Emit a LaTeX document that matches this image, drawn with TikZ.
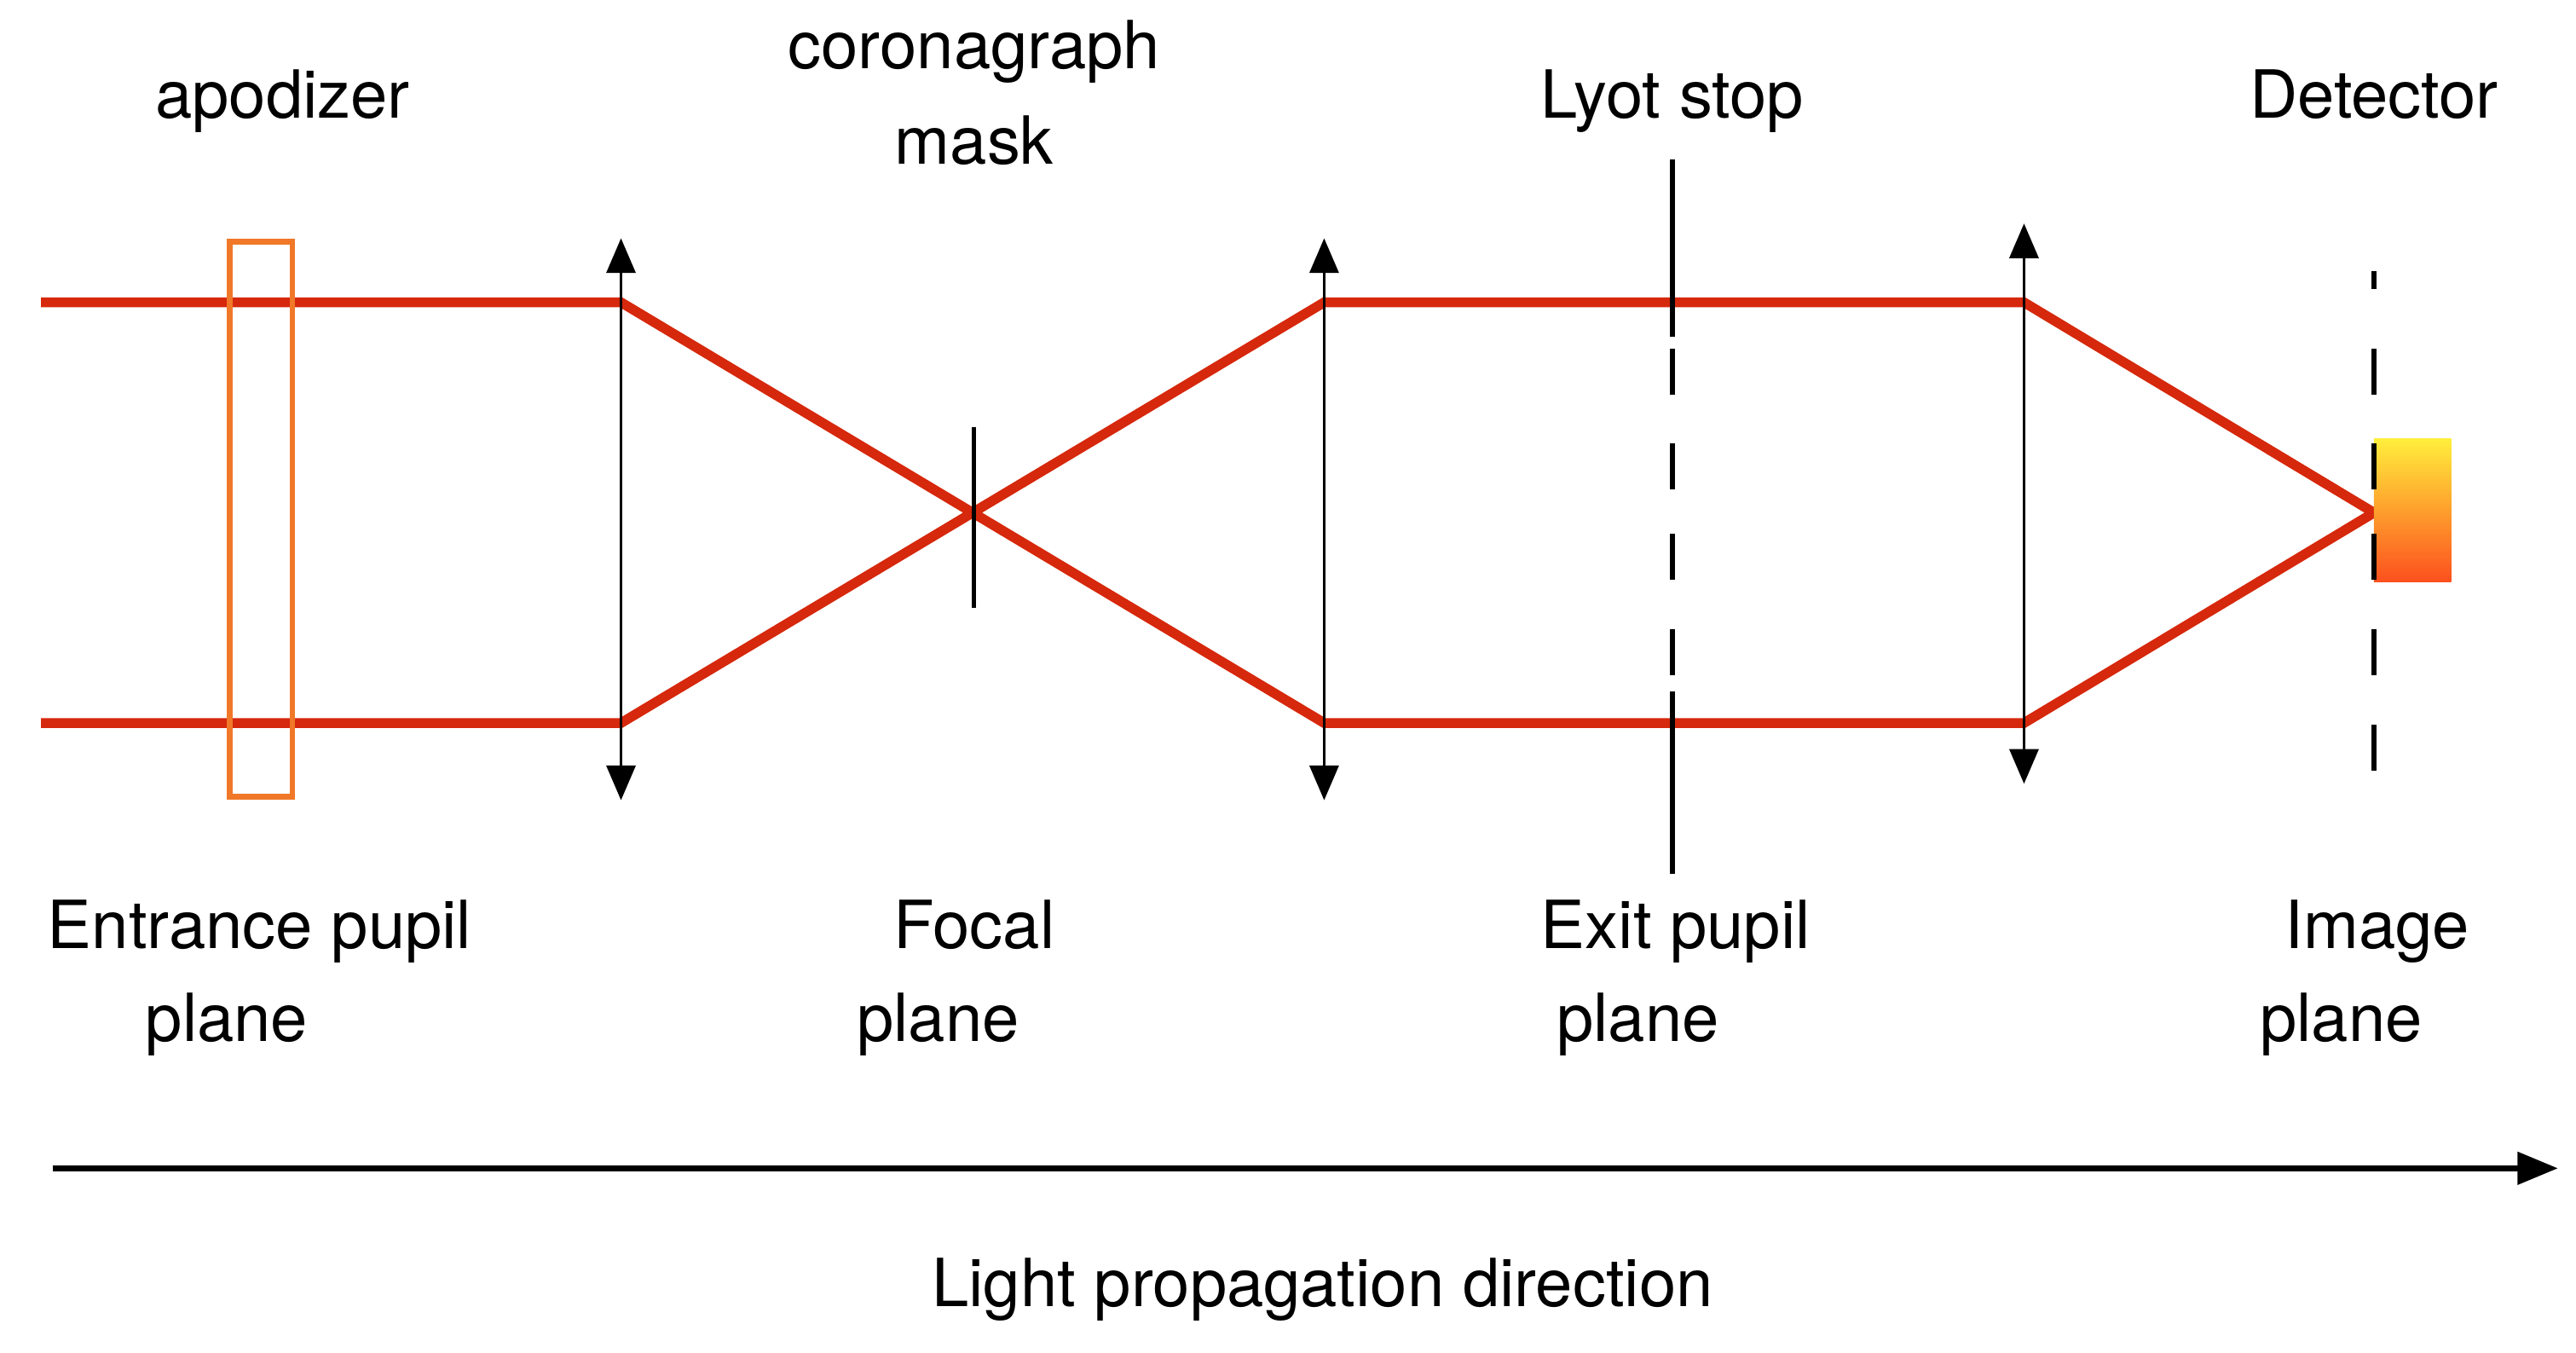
\documentclass[tikz,border=0pt]{standalone}
\usepackage{fontspec}
\setmainfont{TeX Gyre Heros}
\usetikzlibrary{arrows.meta}
\definecolor{beam}{RGB}{214,40,12}
\definecolor{apod}{RGB}{240,120,40}
\definecolor{detY}{RGB}{255,238,60}
\definecolor{detR}{RGB}{252,80,30}
\begin{document}
\begin{tikzpicture}[x=0.02cm,y=-0.02cm,
  ray/.style={draw=beam,line width=3.4pt,line join=miter},
  lens/.style={draw=black,line width=1.1pt,{Triangle[length=12pt,width=10pt]}-{Triangle[length=12pt,width=10pt]}},
  lbl/.style={font=\fontsize{23}{30}\selectfont,inner sep=0pt,anchor=base},
  stopdash/.style={line width=1.8pt,dash pattern=on 28\pgflinewidth off 30\pgflinewidth}]
\useasboundingbox (0,0) rectangle (1568,823);
% beams
\draw[ray] (25,184) -- (378,184) -- (806,440) -- (1232,440) -- (1445,312) -- (1232,184) -- (806,184) -- (378,440) -- (25,440);
% apodizer
\draw[apod,line width=2pt] (140,147) rectangle (178,485);
% lenses
\draw[lens] (378,145) -- (378,487);
\draw[lens] (806,145) -- (806,487);
\draw[lens] (1232,136) -- (1232,477);
% mask
\draw[line width=1.5pt] (593,260) -- (593,370);
% Lyot stop
\draw[line width=1.8pt] (1018,97) -- (1018,205);
\draw[line width=1.8pt] (1018,421) -- (1018,532);
\foreach \a in {212,270,325,383}{\draw[line width=1.8pt] (1018,\a) -- ++(0,28);}
% detector
\shade[top color=detY,bottom color=detR] (1445,267) rectangle (1492,354);
\draw[line width=1.8pt] (1445,165) -- (1445,176);
\foreach \a in {212,270,325,383,441}{\draw[line width=1.8pt] (1445,\a) -- ++(0,28);}
% axis
\draw[line width=2pt,-{Triangle[length=14pt,width=11pt]}] (32,711) -- (1557,711);
% labels
\node[lbl] (t1) at (172,72) {apodizer};
\node[lbl] (t2a) at (593,42) {coronagraph};
\node[lbl] (t2b) at (593,100) {mask};
\node[lbl] (t3) at (1018,72) {Lyot stop};
\node[lbl] (t4) at (1445,72) {Detector};
\node[lbl] (b1a) at (158,577) {Entrance pupil};
\node[lbl] (b1b) at (138,634) {plane};
\node[lbl] (b2a) at (593,577) {Focal};
\node[lbl] (b2b) at (571,634) {plane};
\node[lbl] (b3a) at (1020,577) {Exit pupil};
\node[lbl] (b3b) at (997,634) {plane};
\node[lbl] (b4a) at (1447,577) {Image};
\node[lbl] (b4b) at (1425,634) {plane};
\node[lbl] (ax) at (805,795) {Light propagation direction};
\end{tikzpicture}
\end{document}
